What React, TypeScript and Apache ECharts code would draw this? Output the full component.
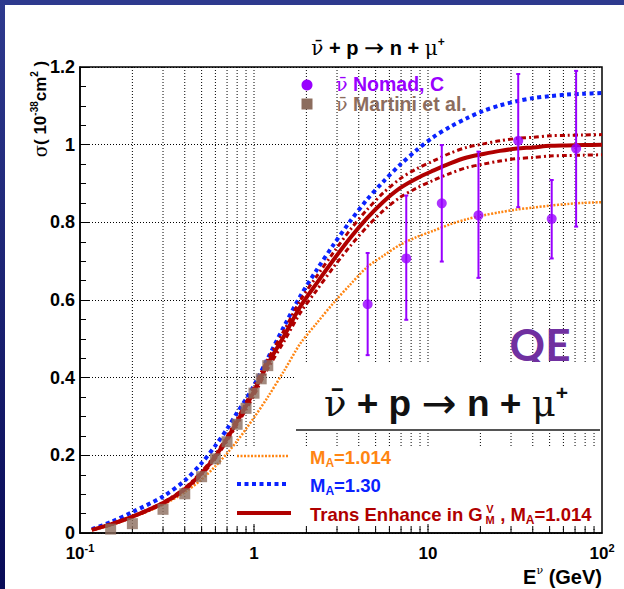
import React, { useEffect, useRef } from 'react';
import * as echarts from 'echarts';

// ---- data ----
const energies = [0.117, 0.15, 0.2, 0.3, 0.4, 0.5, 0.6, 0.7, 0.8, 0.9, 1.0, 1.2, 1.5, 1.84, 2.29, 2.86, 3.56, 4.45, 5.54, 6.9, 8.6, 10.7, 13.4, 16.7, 20.8, 25.9, 32.4, 40.3, 50.2, 62.7, 78, 100];
const transEnhance = [0.008, 0.022, 0.042, 0.077, 0.113, 0.154, 0.197, 0.243, 0.287, 0.327, 0.365, 0.435, 0.51, 0.582, 0.643, 0.703, 0.759, 0.81, 0.853, 0.888, 0.913, 0.933, 0.952, 0.967, 0.976, 0.984, 0.99, 0.993, 0.997, 0.998, 0.999, 1.0];
const transUpper = [0.008, 0.023, 0.043, 0.079, 0.116, 0.158, 0.202, 0.249, 0.294, 0.336, 0.375, 0.447, 0.524, 0.598, 0.661, 0.722, 0.78, 0.832, 0.876, 0.912, 0.938, 0.958, 0.978, 0.993, 1.002, 1.01, 1.016, 1.019, 1.023, 1.024, 1.025, 1.026];
const transLower = [0.008, 0.021, 0.041, 0.075, 0.11, 0.15, 0.192, 0.237, 0.28, 0.318, 0.355, 0.423, 0.496, 0.566, 0.625, 0.684, 0.738, 0.788, 0.83, 0.864, 0.888, 0.908, 0.926, 0.941, 0.95, 0.958, 0.964, 0.967, 0.971, 0.972, 0.973, 0.974];
const ma130 = [0.01, 0.028, 0.054, 0.094, 0.135, 0.18, 0.225, 0.268, 0.31, 0.345, 0.38, 0.45, 0.535, 0.609, 0.677, 0.742, 0.802, 0.858, 0.905, 0.948, 0.986, 1.019, 1.046, 1.068, 1.087, 1.101, 1.112, 1.12, 1.125, 1.129, 1.131, 1.133];
const ma1014 = [0.007, 0.02, 0.04, 0.073, 0.105, 0.138, 0.172, 0.205, 0.237, 0.268, 0.297, 0.35, 0.42, 0.487, 0.54, 0.592, 0.639, 0.684, 0.714, 0.742, 0.762, 0.778, 0.795, 0.808, 0.818, 0.826, 0.833, 0.838, 0.843, 0.847, 0.85, 0.852];

const nomadE = [4.5, 7.5, 12.0, 19.5, 33, 51.4, 71];
const nomadSigma = [0.589, 0.707, 0.849, 0.818, 1.01, 0.809, 0.99];
const nomadLow = [0.458, 0.549, 0.699, 0.657, 0.839, 0.707, 0.789];
const nomadHigh = [0.721, 0.869, 0.999, 0.982, 1.182, 0.909, 1.19];

const martiniE = [0.15, 0.2, 0.3, 0.4, 0.5, 0.6, 0.7, 0.8, 0.9, 1.0, 1.1, 1.2];
const martiniSigma = [0.01, 0.024, 0.061, 0.101, 0.145, 0.191, 0.235, 0.28, 0.321, 0.36, 0.397, 0.431];

const xGridValues = [0.2, 0.3, 0.4, 0.5, 0.6, 0.7, 0.8, 0.9, 1, 2, 3, 4, 5, 6, 7, 8, 9, 10, 20, 30, 40, 50, 60, 70, 80, 90];
const xTickLabels: Record<string, string> = { '-1': '{b|10}{s|-1}', '0': '{b|1}', '1': '{b|10}', '2': '{b|10}{s|2}' };
const yMin = 0, yMax = 1.2, yStep = 0.2;

const NU_BAR = '\u03bd\u0304';
const SANS = 'Liberation Sans';
const SERIF = 'DejaVu Serif';
const RED = '#b00000';
const BLUE = '#0a22ff';
const ORANGE = '#ff8512';
const PURPLE = '#9900ff';
const BROWN = '#8c6d5e';

const zip = (xs: number[], ys: number[]) => xs.map((x, i) => [x, ys[i]]);

const App: React.FC = () => {
  const ref = useRef<HTMLDivElement>(null);
  useEffect(() => {
    if (!ref.current) return;
    const chart = echarts.init(ref.current, undefined, { renderer: 'svg' });
    const b = (size: number, lh?: number) => ({ fontSize: size, fontWeight: 'bold', fontFamily: SANS, lineHeight: lh ?? Math.round(size * 1.3) });
    const LEG = 18.5;
    const option: any = {
      animation: false,
      backgroundColor: '#ffffff',
      grid: { left: 80, right: 22, top: 67, bottom: 56, show: true, borderColor: '#000', borderWidth: 1.5, backgroundColor: 'transparent' },
      xAxis: {
        type: 'log', logBase: 10, min: 0.1, max: 100,
        axisLine: { show: true, lineStyle: { color: '#000', width: 1.5 } },
        axisTick: { show: false },
        splitLine: { show: false },
        axisLabel: {
          margin: 9, showMinLabel: true, showMaxLabel: true,
          formatter: (v: number) => xTickLabels[String(Math.round(Math.log10(v)))] ?? '',
          rich: {
            b: { fontSize: 17, fontWeight: 'bold', fontFamily: SANS, color: '#000', lineHeight: 22 },
            s: { fontSize: 11, fontWeight: 'bold', fontFamily: SANS, color: '#000', lineHeight: 11, verticalAlign: 'top' },
          },
        },
      },
      yAxis: {
        type: 'value', min: yMin, max: yMax, interval: yStep,
        axisLine: { show: true, lineStyle: { color: '#000', width: 1.5 } },
        axisTick: { show: true, inside: true, length: 10, lineStyle: { color: '#000', width: 1 } },
        minorTick: { show: true, splitNumber: 4, length: 6, lineStyle: { color: '#000', width: 1 } },
        splitLine: { show: true, lineStyle: { color: '#000', width: 1, type: [1, 2] } },
        axisLabel: { color: '#000', fontSize: 18, fontWeight: 'bold', fontFamily: SANS, margin: 5 },
      },
      series: [
        {
          type: 'custom', silent: true, z: 1, clip: false,
          data: xGridValues.map((v) => [v, 0]),
          encode: { x: 0, y: 1 },
          renderItem: (_p: any, api: any) => {
            const v = api.value(0);
            const top = api.coord([v, yMax]);
            const bot = api.coord([v, yMin]);
            const lg = Math.log10(v);
            const major = Math.abs(lg - Math.round(lg)) < 1e-6;
            return {
              type: 'group',
              children: [
                { type: 'line', shape: { x1: top[0], y1: top[1], x2: bot[0], y2: bot[1] }, style: { stroke: '#000', lineWidth: 1, lineDash: [1, 2] } },
                { type: 'line', shape: { x1: bot[0], y1: bot[1], x2: bot[0], y2: bot[1] - (major ? 10 : 6) }, style: { stroke: '#000', lineWidth: 1 } },
              ],
            };
          },
        },
        { name: 'MA=1.014', type: 'line', z: 2, symbol: 'none', data: zip(energies, ma1014), smooth: 0.3, lineStyle: { color: ORANGE, width: 2.5, type: [2, 1.5] } },
        { name: 'MA=1.30', type: 'line', z: 3, symbol: 'none', data: zip(energies, ma130), smooth: 0.3, lineStyle: { color: BLUE, width: 4, type: [4, 3.5] } },
        { name: 'upper', type: 'line', z: 3, symbol: 'none', data: zip(energies, transUpper), smooth: 0.3, lineStyle: { color: RED, width: 3, type: [5, 3, 2, 3] } },
        { name: 'lower', type: 'line', z: 3, symbol: 'none', data: zip(energies, transLower), smooth: 0.3, lineStyle: { color: RED, width: 3, type: [5, 3, 2, 3] } },
        { name: 'Trans Enhance', type: 'line', z: 4, symbol: 'none', data: zip(energies, transEnhance), smooth: 0.3, lineStyle: { color: RED, width: 4 } },
        { name: 'Martini', type: 'scatter', z: 6, symbol: 'rect', symbolSize: 11, data: zip(martiniE, martiniSigma), itemStyle: { color: BROWN } },
        {
          type: 'custom', z: 5, silent: true,
          data: nomadE.map((e, i) => [e, nomadLow[i], nomadHigh[i]]),
          encode: { x: 0, y: [1, 2] },
          renderItem: (_p: any, api: any) => {
            const e = api.value(0);
            const lo = api.coord([e, api.value(1)]);
            const hi = api.coord([e, api.value(2)]);
            const st = { stroke: PURPLE, lineWidth: 2 };
            return {
              type: 'group',
              children: [
                { type: 'line', shape: { x1: lo[0], y1: lo[1], x2: hi[0], y2: hi[1] }, style: st },
                { type: 'line', shape: { x1: lo[0] - 2, y1: lo[1], x2: lo[0] + 2, y2: lo[1] }, style: st },
                { type: 'line', shape: { x1: hi[0] - 2, y1: hi[1], x2: hi[0] + 2, y2: hi[1] }, style: st },
              ],
            };
          },
        },
        { name: 'Nomad', type: 'scatter', z: 6, symbol: 'circle', symbolSize: 10, data: zip(nomadE, nomadSigma), itemStyle: { color: PURPLE } },
      ],
      graphic: {
        elements: [
          { type: 'rect', z: 100, shape: { x: 0, y: 0, width: 624, height: 5 }, style: { fill: '#2e3a8e' } },
          { type: 'rect', z: 100, shape: { x: 0, y: 0, width: 5, height: 589 }, style: { fill: new echarts.graphic.LinearGradient(0, 0, 0, 1, [{ offset: 0, color: '#2e3a8e' }, { offset: 1, color: '#080b57' }]) } },
          // top title
          {
            type: 'text', z: 100, x: 378, y: 48,
            style: {
              text: `{g|${NU_BAR}}{b| + p }{a|\u2192}{b| n + }{g|\u03bc}{s|+}`, align: 'center', verticalAlign: 'middle', fill: '#000',
              rich: { g: { fontSize: 20, fontFamily: SERIF, lineHeight: 24 }, b: b(20, 24), a: { fontSize: 24, fontFamily: 'DejaVu Sans', lineHeight: 24 }, s: { ...b(12, 12), verticalAlign: 'top' } },
            },
          },
          // top legend
          { type: 'circle', z: 100, shape: { cx: 307, cy: 85, r: 5.5 }, style: { fill: PURPLE } },
          { type: 'rect', z: 100, shape: { x: 301.5, y: 98.5, width: 11, height: 11 }, style: { fill: BROWN } },
          { type: 'text', z: 100, x: 336, y: 84, style: { text: `{g|${NU_BAR}}{b| Nomad, C}`, align: 'left', verticalAlign: 'middle', fill: PURPLE, rich: { g: { fontSize: 19, fontFamily: SERIF, lineHeight: 17 }, b: b(19.5, 17) } } },
          { type: 'text', z: 100, x: 336, y: 104, style: { text: `{g|${NU_BAR}}{b| Martini et al.}`, align: 'left', verticalAlign: 'middle', fill: BROWN, rich: { g: { fontSize: 19, fontFamily: SERIF, lineHeight: 17 }, b: b(19.5, 17) } } },
          // QE
          { type: 'text', z: 100, x: 540, y: 344, style: { text: 'QE', align: 'center', verticalAlign: 'middle', fill: '#7030a0', font: 'bold 44px Lato' } },
          // inset
          { type: 'rect', z: 100, shape: { x: 296, y: 362, width: 305, height: 69 }, style: { fill: '#ffffff' } },
          { type: 'line', z: 101, shape: { x1: 296, y1: 430, x2: 600, y2: 430 }, style: { stroke: '#555', lineWidth: 2 } },
          {
            type: 'text', z: 101, x: 446, y: 403,
            style: {
              text: `{g|${NU_BAR}}{b| + p }{a|\u2192}{b| n + }{g|\u03bc}{s|+}`, align: 'center', verticalAlign: 'middle', fill: '#111',
              rich: { g: { fontSize: 37, fontFamily: SERIF, lineHeight: 42 }, b: b(37, 42), a: { fontSize: 42, fontFamily: 'DejaVu Sans', lineHeight: 42 }, s: { ...b(21, 21), verticalAlign: 'top' } },
            },
          },
          // bottom legend
          { type: 'rect', z: 100, shape: { x: 235, y: 446, width: 365, height: 78 }, style: { fill: '#ffffff' } },
          { type: 'line', z: 101, shape: { x1: 237, y1: 456, x2: 288, y2: 456 }, style: { stroke: ORANGE, lineWidth: 2.5, lineDash: [2, 1.5] } },
          { type: 'line', z: 101, shape: { x1: 237, y1: 484, x2: 288, y2: 484 }, style: { stroke: BLUE, lineWidth: 4, lineDash: [4, 3.5] } },
          { type: 'line', z: 101, shape: { x1: 237, y1: 513, x2: 291, y2: 513 }, style: { stroke: RED, lineWidth: 4 } },
          { type: 'text', z: 101, x: 310, y: 457, style: { text: '{m|M}{s|A}{m|=1.014}', align: 'left', verticalAlign: 'middle', fill: ORANGE, rich: { m: b(LEG, 24), s: { ...b(12, 12), verticalAlign: 'bottom' } } } },
          { type: 'text', z: 101, x: 310, y: 485, style: { text: '{m|M}{s|A}{m|=1.30}', align: 'left', verticalAlign: 'middle', fill: BLUE, rich: { m: b(LEG, 24), s: { ...b(12, 12), verticalAlign: 'bottom' } } } },
          { type: 'text', z: 101, x: 310, y: 514, style: { text: 'Trans Enhance in G', align: 'left', verticalAlign: 'middle', fill: RED, font: `bold ${LEG}px ${SANS}` } },
          { type: 'text', z: 101, x: 490, y: 514, style: { text: 'V\nM', align: 'center', verticalAlign: 'middle', fill: RED, font: `bold 11px ${SANS}`, lineHeight: 11 } },
          { type: 'text', z: 101, x: 495, y: 514, style: { text: '{m| , M}{s|A}{m|=1.014}', align: 'left', verticalAlign: 'middle', fill: RED, rich: { m: b(LEG, 24), s: { ...b(12, 12), verticalAlign: 'bottom' } } } },
          // axis titles
          {
            type: 'text', z: 100, x: 40, y: 109, rotation: Math.PI / 2,
            style: {
              text: '{g|\u03c3}{b|( 10}{s|-38}{b|cm}{s|2}{b| )}', align: 'center', verticalAlign: 'middle', fill: '#000',
              rich: { g: { fontSize: 18, fontFamily: SERIF, lineHeight: 22 }, b: b(17, 22), s: { ...b(10, 10), verticalAlign: 'top' } },
            },
          },
          {
            type: 'text', z: 100, x: 602, y: 577,
            style: { text: '{b|E}{s|\u03bd}{b| (GeV)}', align: 'right', verticalAlign: 'middle', fill: '#000', rich: { b: b(20, 24), s: { fontSize: 11, fontFamily: SERIF, lineHeight: 11, verticalAlign: 'top' } } },
          },
        ],
      },
    };
    chart.setOption(option);
    return () => chart.dispose();
  }, []);
  return <div ref={ref} style={{ position: 'fixed', left: 0, top: 0, width: 624, height: 589 }} />;
};

export default App;
